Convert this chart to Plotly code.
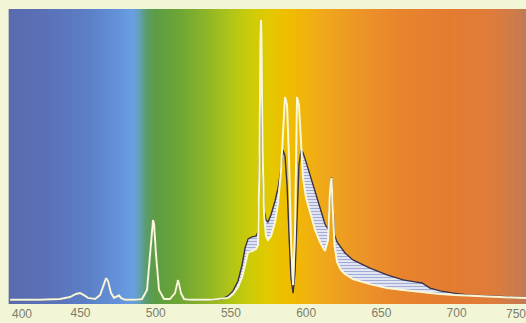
import numpy as np
import plotly.graph_objects as go

# wavelength sample points (nm)
wl = [403.2, 423.1, 436.4, 443.0, 447.0, 449.7, 452.3, 455.0, 459.7, 463.0,
      465.6, 467.0, 468.3, 470.3, 472.3, 474.3, 475.6, 476.9, 479.6, 486.2,
      490.9, 494.2, 496.2, 497.5, 498.2, 498.9, 500.2, 502.2, 505.5, 509.5,
      512.8, 514.2, 514.8, 515.5, 516.8, 518.8, 522.8, 536.1, 544.1, 548.1,
      551.4, 554.7, 557.4, 559.4, 561.4, 564.0, 566.7, 568.0, 569.0, 569.6,
      570.0, 570.3, 571.0, 572.0, 573.3, 574.6, 576.6, 579.3, 581.3, 583.3,
      584.6, 585.9, 587.3, 588.6, 589.9, 591.3, 592.6, 593.3, 593.9, 595.2,
      596.6, 597.9, 599.9, 602.6, 605.9, 609.2, 612.5, 614.5, 615.9, 616.8,
      617.8, 618.8, 620.5, 623.2, 625.8, 631.1, 642.4, 653.7, 664.4, 672.3,
      677.0, 682.3, 689.0, 698.9, 708.9, 728.8, 746.1]

# white curve (lamp spectrum)
white_curve = [0.4, 0.4, 0.7, 1.4, 2.5, 2.8, 2.1, 1.1, 0.7, 2.1,
               6.0, 8.2, 7.1, 2.8, 1.1, 1.8, 2.0, 1.1, 0.4, 0.4,
               0.7, 3.9, 16.4, 27.4, 28.8, 27.4, 16.4, 3.9, 0.7, 0.7,
               2.8, 6.0, 7.5, 6.0, 2.8, 0.7, 0.4, 0.4, 0.7, 1.1,
               2.5, 5.0, 8.5, 12.8, 17.4, 17.8, 18.5, 19.9, 50.2, 92.9,
               100.0, 92.9, 53.7, 30.6, 23.1, 21.7, 23.1, 28.1, 34.9, 46.6,
               62.6, 72.6, 69.8, 50.2, 21.7, 5.7, 25.3, 57.3, 72.6, 69.8,
               55.5, 43.8, 36.7, 31.7, 25.3, 21.0, 17.8, 21.7, 39.5, 43.8,
               34.2, 19.9, 13.9, 11.0, 9.6, 7.8, 6.0, 4.6, 3.9, 3.4,
               3.2, 2.8, 2.5, 2.1, 1.8, 1.4, 1.1]

# dark curve
dark_curve = [0.4, 0.4, 0.7, 1.4, 2.5, 2.8, 2.1, 1.1, 0.7, 2.1,
              6.0, 8.2, 7.1, 2.8, 1.1, 1.8, 2.0, 1.1, 0.4, 0.4,
              0.7, 3.9, 16.4, 27.4, 28.8, 27.4, 16.4, 3.9, 0.7, 0.7,
              2.8, 6.0, 7.5, 6.0, 2.8, 0.7, 0.4, 0.4, 0.7, 1.8,
              3.6, 7.1, 12.8, 18.9, 22.1, 22.8, 23.1, 24.6, 50.2, 75.1,
              76.9, 71.5, 46.6, 32.4, 28.8, 28.1, 30.6, 35.6, 40.2, 47.3,
              53.7, 51.6, 41.3, 23.5, 8.2, 2.8, 10.3, 19.9, 30.6, 48.4,
              53.7, 52.7, 49.5, 44.8, 38.8, 32.4, 27.4, 25.6, 39.5, 44.1,
              34.2, 23.5, 21.0, 18.9, 17.1, 14.6, 11.7, 9.3, 7.5, 6.8,
              6.4, 4.6, 3.6, 2.7, 2.1, 1.6, 1.2]

# background spectrum colours
bg_nm = [402.5, 429.8, 456.3, 476.3, 485.0, 489.6, 493.6, 499.5, 516.2, 532.8,
         549.4, 562.7, 576.0, 589.3, 609.2, 635.8, 662.4, 695.6, 722.2, 735.5, 746.1]
bg_colors = ["#5a6aae", "#5a72b8", "#5c80c8", "#6494dc", "#6a9fe0", "#62a0b0",
             "#5a9c6c", "#5c9c44", "#6ea634", "#8cb428", "#b0c418", "#cccc08",
             "#e4c800", "#f0bc00", "#f0aa18", "#ec9428", "#e8842c", "#e47c30",
             "#e07c3a", "#d07c48", "#c07a52"]

tick_vals = [450, 500, 550, 600, 650, 700]
edge_labels = ["400", "750"]

x_range = [396.5, 746.1]
y_range = [-1.07, 103.9]

cream = "#f3f6d6"
label_color = "#7c7c6c"

fig = go.Figure()

lo, hi = bg_nm[0], bg_nm[-1]
cs = [[(v - lo) / (hi - lo), c] for v, c in zip(bg_nm, bg_colors)]
grid = np.linspace(lo, hi, 700)
fig.add_trace(go.Heatmap(x=grid, y=y_range, z=[grid], colorscale=cs,
                         zmin=lo, zmax=hi, showscale=False, hoverinfo="skip"))

w = np.array(white_curve)
d = np.array(dark_curve)
upper = np.maximum(w, d)

fig.add_trace(go.Scatter(x=wl, y=w, mode="lines", line=dict(width=0, color="rgba(0,0,0,0)"),
                         hoverinfo="skip", showlegend=False))
fig.add_trace(go.Scatter(x=wl, y=upper, mode="lines", line=dict(width=0, color="rgba(0,0,0,0)"),
                         fill="tonexty", fillcolor="#eef0f8",
                         fillpattern=dict(shape="-", fgcolor="#5a68b4", bgcolor="#eef0f8",
                                          size=3, solidity=0.45),
                         hoverinfo="skip", showlegend=False))
fig.add_trace(go.Scatter(x=wl, y=d, mode="lines", line=dict(width=1.4, color="#3a3248"),
                         showlegend=False))
fig.add_trace(go.Scatter(x=wl, y=w, mode="lines", line=dict(width=2.0, color="#f8f8d8"),
                         showlegend=False))

fig.add_annotation(x=0, xref="paper", y=0, yref="paper", yshift=-10,
                   text=edge_labels[0], showarrow=False, xanchor="left", yanchor="middle",
                   xshift=10, font=dict(size=12, color=label_color, family="Liberation Sans"))
fig.add_annotation(x=1, xref="paper", y=0, yref="paper", yshift=-10,
                   text=edge_labels[1], showarrow=False, xanchor="right", yanchor="middle",
                   xshift=2, font=dict(size=12, color=label_color, family="Liberation Sans"))

fig.update_xaxes(range=x_range, tickvals=tick_vals, showgrid=False, zeroline=False,
                 showline=False, ticks="", tickfont=dict(size=12, color=label_color,
                 family="Liberation Sans"))
fig.update_yaxes(range=y_range, visible=False, showgrid=False, zeroline=False)

fig.update_layout(width=526, height=323, margin=dict(l=0, r=0, t=9, b=19),
                  paper_bgcolor=cream, plot_bgcolor=cream, showlegend=False)

fig.write_html("out.html", config={"displayModeBar": False},
               post_script="document.body.style.margin='0';")
